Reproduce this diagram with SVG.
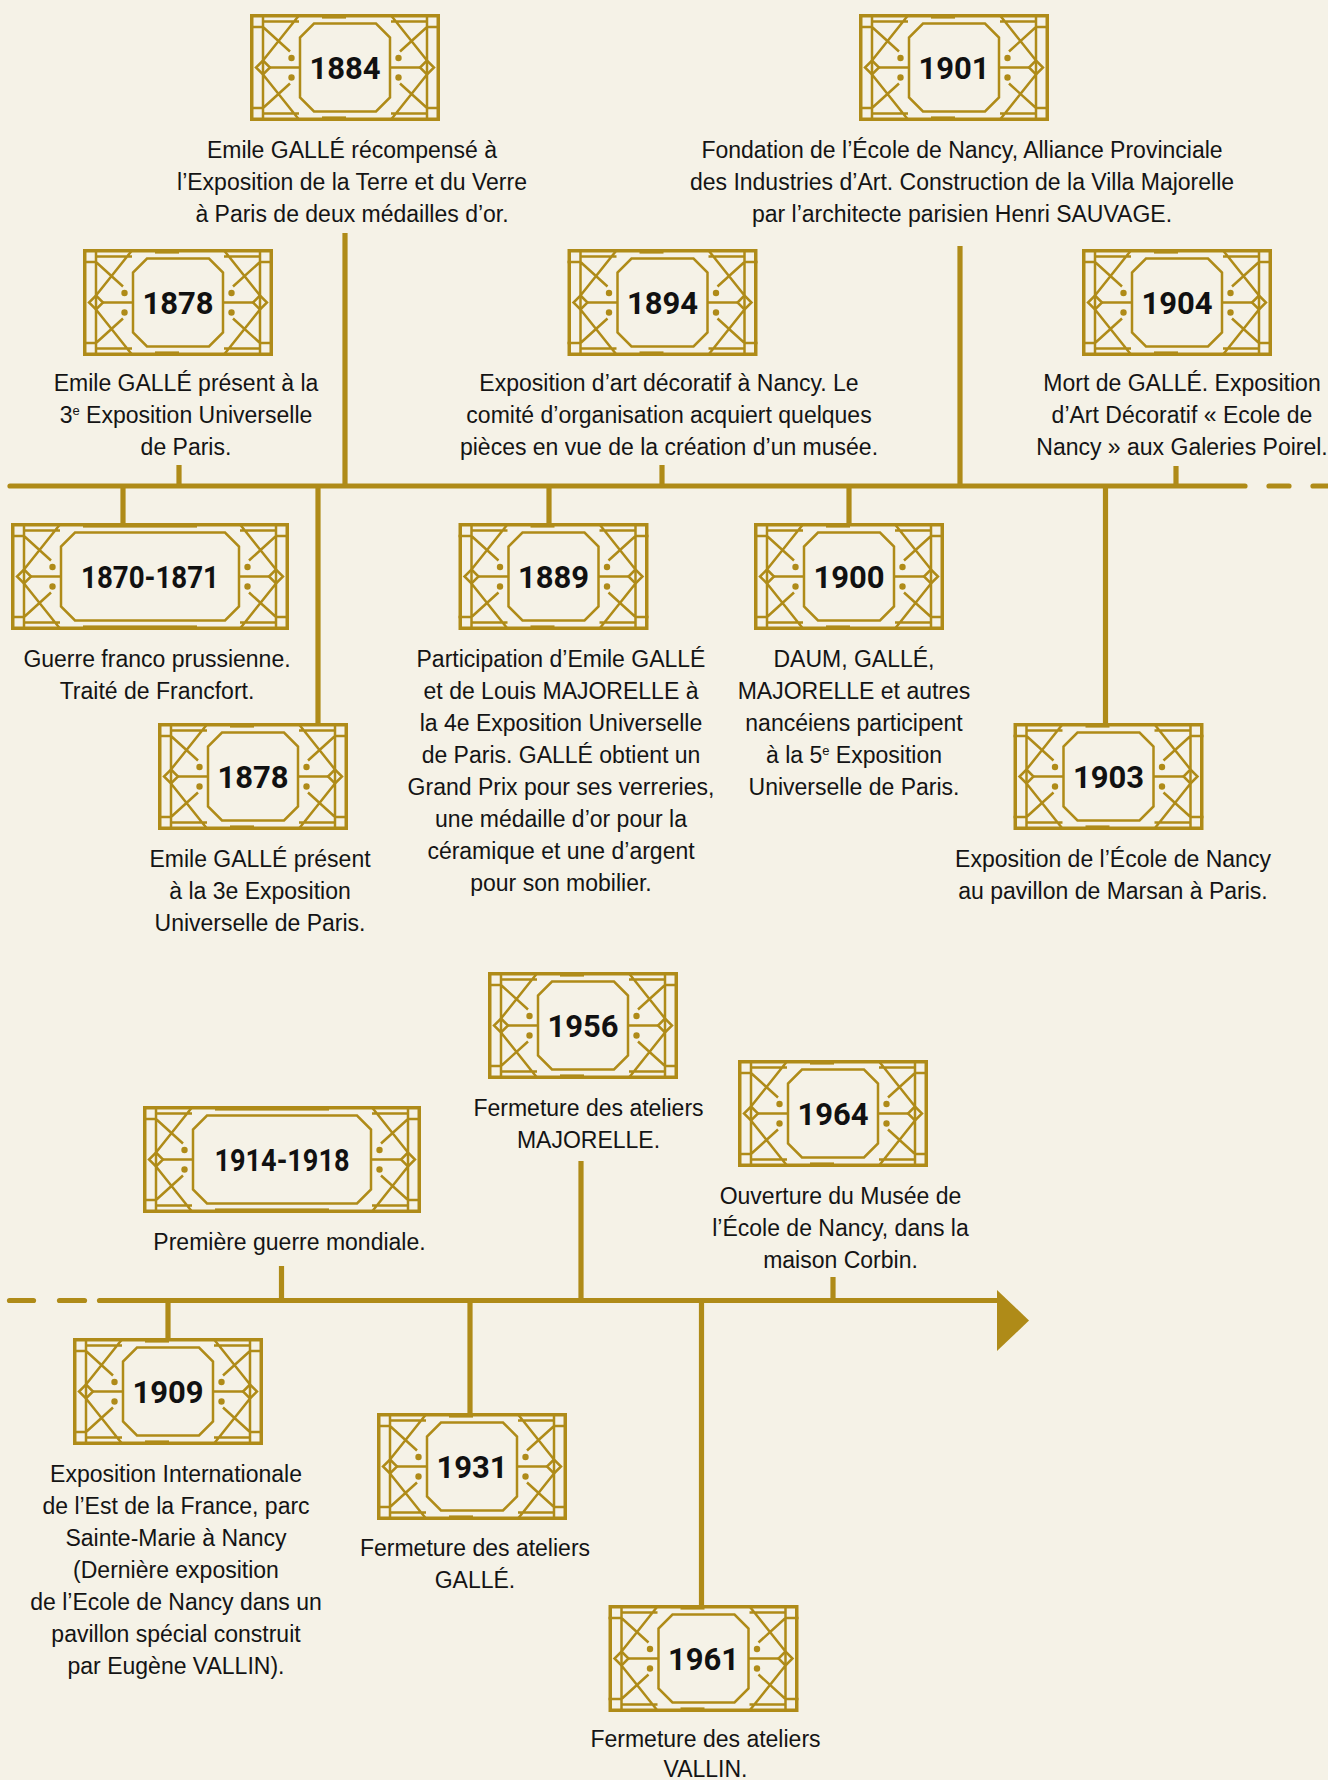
<svg xmlns="http://www.w3.org/2000/svg" xmlns:xlink="http://www.w3.org/1999/xlink" width="1328" height="1780" viewBox="0 0 1328 1780">
<style>
.ob{fill:none;stroke:#AF8B18;stroke-width:3.5}
.tl{fill:none;stroke:#AF8B18;stroke-width:2.5}
.dot{fill:#AF8B18}
.ln{fill:none;stroke:#AF8B18;stroke-width:5.2}
.rl{fill:none;stroke:#AF8B18;stroke-width:5.2;stroke-linecap:round}
.yr{font-family:Roboto,"Liberation Sans",sans-serif;font-weight:700;font-size:31px;fill:#111;text-anchor:middle}
.cap{font-family:"Liberation Sans",Arial,sans-serif;font-size:23px;fill:#141414;text-anchor:middle}
.sup{font-size:13px}
</style>
<defs>
<symbol id="orn" overflow="visible">
<path class="tl" d="M13,0V107 M0,13H13 M0,94H13 M13,7.5H49 M13,99.5H49 M48.5,2L13,46.5 M48.5,105L13,60.5 M13,13L40,37.5 M13,94L40,69.5 M20,53.5H50"/>
<path class="tl" d="M13,46.5L20,53.5L13,60.5L6,53.5Z"/>
<circle class="dot" cx="41.5" cy="44" r="3.2"/>
<circle class="dot" cx="41.5" cy="63.5" r="3.2"/>
</symbol>
<symbol id="box190" overflow="visible">
<rect class="ob" x="1.75" y="1.75" width="186.5" height="103.5"/>
<rect class="dot" x="72" y="0" width="24" height="4.6"/>
<rect class="dot" x="72" y="102.4" width="24" height="4.6"/>
<use xlink:href="#orn" href="#orn"/>
<use xlink:href="#orn" href="#orn" transform="matrix(-1 0 0 1 190 0)"/>
<polygon class="tl" points="64,9.5 126,9.5 140,23.5 140,83.5 126,97.5 64,97.5 50,83.5 50,23.5"/>
</symbol>
<symbol id="box278" overflow="visible">
<rect class="ob" x="1.75" y="1.75" width="274.5" height="103.5"/>
<rect class="dot" x="72" y="0" width="114" height="4.6"/>
<rect class="dot" x="72" y="102.4" width="114" height="4.6"/>
<use xlink:href="#orn" href="#orn"/>
<use xlink:href="#orn" href="#orn" transform="matrix(-1 0 0 1 278 0)"/>
<polygon class="tl" points="64,9.5 214,9.5 228,23.5 228,83.5 214,97.5 64,97.5 50,83.5 50,23.5"/>
</symbol>
</defs>
<rect x="0" y="0" width="1328" height="1780" fill="#F5F2E7"/>

<g id="connectors">
<line class="rl" x1="10" y1="486" x2="1245" y2="486"/>
<line class="rl" x1="1269" y1="486" x2="1289" y2="486"/>
<line class="rl" x1="1313" y1="486" x2="1336" y2="486"/>
<line class="ln" x1="345" y1="233" x2="345" y2="486"/>
<line class="ln" x1="960" y1="246" x2="960" y2="486"/>
<line class="ln" x1="179" y1="465" x2="179" y2="486"/>
<line class="ln" x1="662" y1="465" x2="662" y2="486"/>
<line class="ln" x1="1176" y1="466" x2="1176" y2="486"/>
<line class="ln" x1="123" y1="486" x2="123" y2="523"/>
<line class="ln" x1="318" y1="486" x2="318" y2="724"/>
<line class="ln" x1="549" y1="486" x2="549" y2="524"/>
<line class="ln" x1="849" y1="486" x2="849" y2="524"/>
<line class="ln" x1="1105.5" y1="486" x2="1105.5" y2="724"/>
<line class="rl" x1="9.5" y1="1300.5" x2="33.5" y2="1300.5"/>
<line class="rl" x1="59.5" y1="1300.5" x2="84.5" y2="1300.5"/>
<line class="rl" x1="99.5" y1="1300.5" x2="998" y2="1300.5"/>
<polygon fill="#AF8B18" points="997,1290 1029,1320.5 997,1351"/>
<line class="ln" x1="581" y1="1161" x2="581" y2="1300"/>
<line class="ln" x1="833" y1="1277" x2="833" y2="1300"/>
<line class="ln" x1="281.5" y1="1266" x2="281.5" y2="1300"/>
<line class="ln" x1="168" y1="1300" x2="168" y2="1339"/>
<line class="ln" x1="470" y1="1300" x2="470" y2="1413"/>
<line class="ln" x1="701.5" y1="1300" x2="701.5" y2="1606"/>
</g>

<g id="n1884">
<use xlink:href="#box190" href="#box190" x="250" y="14"/>
<text class="yr" x="345" y="78.5">1884</text>
<text class="cap" x="352" y="158">Emile GALLÉ récompensé à</text>
<text class="cap" x="352" y="190">l’Exposition de la Terre et du Verre</text>
<text class="cap" x="352" y="222">à Paris de deux médailles d’or.</text>
</g>

<g id="n1901">
<use xlink:href="#box190" href="#box190" x="859" y="14"/>
<text class="yr" x="954" y="78.5">1901</text>
<text class="cap" x="962" y="158">Fondation de l’École de Nancy, Alliance Provinciale</text>
<text class="cap" x="962" y="190">des Industries d’Art. Construction de la Villa Majorelle</text>
<text class="cap" x="962" y="222">par l’architecte parisien Henri SAUVAGE.</text>
</g>

<g id="n1878a">
<use xlink:href="#box190" href="#box190" x="83" y="249"/>
<text class="yr" x="178" y="313.5">1878</text>
<text class="cap" x="186" y="391">Emile GALLÉ présent à la</text>
<text class="cap" x="186" y="423">3<tspan class="sup" dy="-8">e</tspan><tspan dy="8"> Exposition Universelle</tspan></text>
<text class="cap" x="186" y="455">de Paris.</text>
</g>

<g id="n1894">
<use xlink:href="#box190" href="#box190" x="567.5" y="249"/>
<text class="yr" x="662.5" y="313.5">1894</text>
<text class="cap" x="669" y="391">Exposition d’art décoratif à Nancy. Le</text>
<text class="cap" x="669" y="423">comité d’organisation acquiert quelques</text>
<text class="cap" x="669" y="455">pièces en vue de la création d’un musée.</text>
</g>

<g id="n1904">
<use xlink:href="#box190" href="#box190" x="1082" y="249"/>
<text class="yr" x="1177" y="313.5">1904</text>
<text class="cap" x="1182" y="391">Mort de GALLÉ. Exposition</text>
<text class="cap" x="1182" y="423">d’Art Décoratif « Ecole de</text>
<text class="cap" x="1182" y="455">Nancy » aux Galeries Poirel.</text>
</g>

<g id="n1870">
<use xlink:href="#box278" href="#box278" x="11" y="523"/>
<text class="yr" x="150" y="587.5" textLength="138" lengthAdjust="spacingAndGlyphs">1870-1871</text>
<text class="cap" x="157" y="667">Guerre franco prussienne.</text>
<text class="cap" x="157" y="699">Traité de Francfort.</text>
</g>

<g id="n1878b">
<use xlink:href="#box190" href="#box190" x="158" y="723"/>
<text class="yr" x="253" y="787.5">1878</text>
<text class="cap" x="260" y="867">Emile GALLÉ présent</text>
<text class="cap" x="260" y="899">à la 3e Exposition</text>
<text class="cap" x="260" y="931">Universelle de Paris.</text>
</g>

<g id="n1889">
<use xlink:href="#box190" href="#box190" x="458.5" y="523"/>
<text class="yr" x="553.5" y="587.5">1889</text>
<text class="cap" x="561" y="667">Participation d’Emile GALLÉ</text>
<text class="cap" x="561" y="699">et de Louis MAJORELLE à</text>
<text class="cap" x="561" y="731">la 4e Exposition Universelle</text>
<text class="cap" x="561" y="763">de Paris. GALLÉ obtient un</text>
<text class="cap" x="561" y="795">Grand Prix pour ses verreries,</text>
<text class="cap" x="561" y="827">une médaille d’or pour la</text>
<text class="cap" x="561" y="859">céramique et une d’argent</text>
<text class="cap" x="561" y="891">pour son mobilier.</text>
</g>

<g id="n1900">
<use xlink:href="#box190" href="#box190" x="754" y="523"/>
<text class="yr" x="849" y="587.5">1900</text>
<text class="cap" x="854" y="667">DAUM, GALLÉ,</text>
<text class="cap" x="854" y="699">MAJORELLE et autres</text>
<text class="cap" x="854" y="731">nancéiens participent</text>
<text class="cap" x="854" y="763">à la 5<tspan class="sup" dy="-8">e</tspan><tspan dy="8"> Exposition</tspan></text>
<text class="cap" x="854" y="795">Universelle de Paris.</text>
</g>

<g id="n1903">
<use xlink:href="#box190" href="#box190" x="1013.5" y="723"/>
<text class="yr" x="1108.5" y="787.5">1903</text>
<text class="cap" x="1113" y="867">Exposition de l’École de Nancy</text>
<text class="cap" x="1113" y="899">au pavillon de Marsan à Paris.</text>
</g>

<g id="n1956">
<use xlink:href="#box190" href="#box190" x="488" y="972"/>
<text class="yr" x="583" y="1036.5">1956</text>
<text class="cap" x="588.5" y="1115.5">Fermeture des ateliers</text>
<text class="cap" x="588.5" y="1147.5">MAJORELLE.</text>
</g>

<g id="n1964">
<use xlink:href="#box190" href="#box190" x="738" y="1060"/>
<text class="yr" x="833" y="1124.5">1964</text>
<text class="cap" x="840.5" y="1204">Ouverture du Musée de</text>
<text class="cap" x="840.5" y="1236">l’École de Nancy, dans la</text>
<text class="cap" x="840.5" y="1268">maison Corbin.</text>
</g>

<g id="n1914">
<use xlink:href="#box278" href="#box278" x="143" y="1106"/>
<text class="yr" x="282" y="1170.5" textLength="135" lengthAdjust="spacingAndGlyphs">1914-1918</text>
<text class="cap" x="289.5" y="1249.5">Première guerre mondiale.</text>
</g>

<g id="n1909">
<use xlink:href="#box190" href="#box190" x="73" y="1338"/>
<text class="yr" x="168" y="1402.5">1909</text>
<text class="cap" x="176" y="1482">Exposition Internationale</text>
<text class="cap" x="176" y="1514">de l’Est de la France, parc</text>
<text class="cap" x="176" y="1546">Sainte-Marie à Nancy</text>
<text class="cap" x="176" y="1578">(Dernière exposition</text>
<text class="cap" x="176" y="1610">de l’Ecole de Nancy dans un</text>
<text class="cap" x="176" y="1642">pavillon spécial construit</text>
<text class="cap" x="176" y="1674">par Eugène VALLIN).</text>
</g>

<g id="n1931">
<use xlink:href="#box190" href="#box190" x="377" y="1413"/>
<text class="yr" x="472" y="1477.5">1931</text>
<text class="cap" x="475" y="1556">Fermeture des ateliers</text>
<text class="cap" x="475" y="1588">GALLÉ.</text>
</g>

<g id="n1961">
<use xlink:href="#box190" href="#box190" x="608.5" y="1605"/>
<text class="yr" x="703.5" y="1669.5">1961</text>
<text class="cap" x="705.5" y="1747">Fermeture des ateliers</text>
<text class="cap" x="705.5" y="1777">VALLIN.</text>
</g>
</svg>
